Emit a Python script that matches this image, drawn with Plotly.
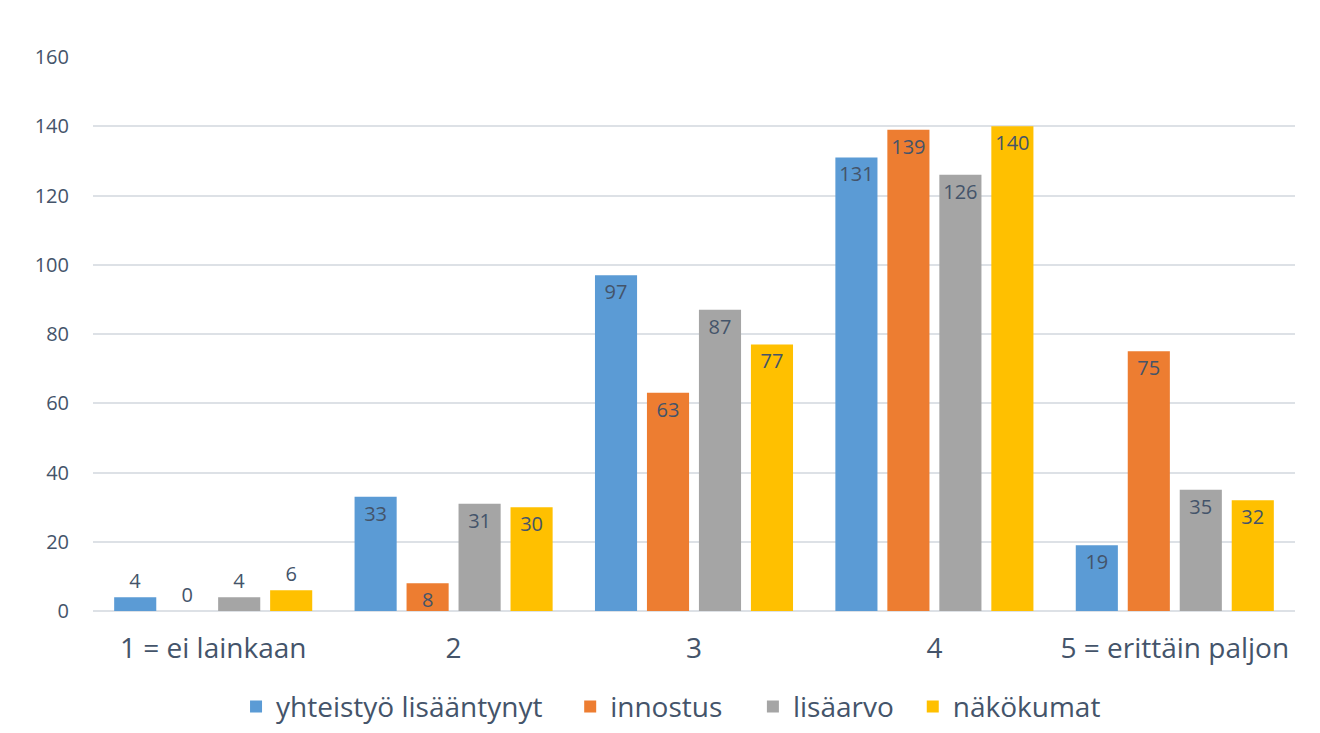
import plotly.graph_objects as go

categories = ["1 = ei lainkaan", "2", "3", "4", "5 = erittäin paljon"]
series_names = ["yhteistyö lisääntynyt", "innostus", "lisäarvo", "näkökumat"]
yhteistyo = [4, 33, 97, 131, 19]
innostus = [0, 8, 63, 139, 75]
lisaarvo = [4, 31, 87, 126, 35]
nakokumat = [6, 30, 77, 140, 32]
y_ticks = [0, 20, 40, 60, 80, 100, 120, 140, 160]

colors = ["#5B9BD5", "#ED7D31", "#A5A5A5", "#FFC000"]
legend_ids = ["legend", "legend2", "legend3", "legend4"]
legend_x = [0.119, 0.397, 0.549, 0.682]
text_color = "#44546A"
font_family = "'Open Sans', 'Noto Sans', sans-serif"

fig = go.Figure()
for name, vals, col, lid in zip(series_names, [yhteistyo, innostus, lisaarvo, nakokumat], colors, legend_ids):
    fig.add_trace(go.Bar(
        x=categories, y=vals, name=name, legend=lid,
        marker=dict(color=col, line=dict(width=0)),
        text=[str(v) for v in vals],
        textposition=["inside" if v >= 8 else "outside" for v in vals],
        insidetextanchor="end",
        textangle=0,
        constraintext="none",
        textfont=dict(color=text_color, size=20, family=font_family),
        insidetextfont=dict(color=text_color, size=20, family=font_family),
        outsidetextfont=dict(color=text_color, size=20, family=font_family),
        cliponaxis=False,
    ))

legend_common = dict(orientation="h", xanchor="left", y=-0.173, yanchor="middle",
                     font=dict(size=28, color=text_color, family=font_family),
                     itemwidth=30, bgcolor="rgba(0,0,0,0)")
layout_legends = {lid: dict(x=lx, **legend_common) for lid, lx in zip(legend_ids, legend_x)}

fig.update_layout(
    width=1320, height=733,
    barmode="group", bargap=0.135, bargroupgap=0.19,
    plot_bgcolor="white", paper_bgcolor="white",
    margin=dict(l=93, r=25, t=57, b=122, autoexpand=False),
    font=dict(family=font_family, color=text_color),
    showlegend=True,
    **layout_legends,
)
fig.update_yaxes(range=[0, 160], tickvals=y_ticks, showgrid=True, gridcolor="#DDE1E6", gridwidth=2,
                 zeroline=True, zerolinecolor="#DDE1E6", zerolinewidth=2,
                 showline=False, ticks="", ticklabelstandoff=23,
                 tickfont=dict(size=20, color=text_color, family=font_family))
fig.update_xaxes(showgrid=False, showline=False, ticks="", ticklabelstandoff=18,
                 tickfont=dict(size=28, color=text_color, family=font_family))

fig.write_html("out.html", config={"displayModeBar": False},
               post_script="document.body.style.margin='0';document.body.style.overflow='hidden';")
